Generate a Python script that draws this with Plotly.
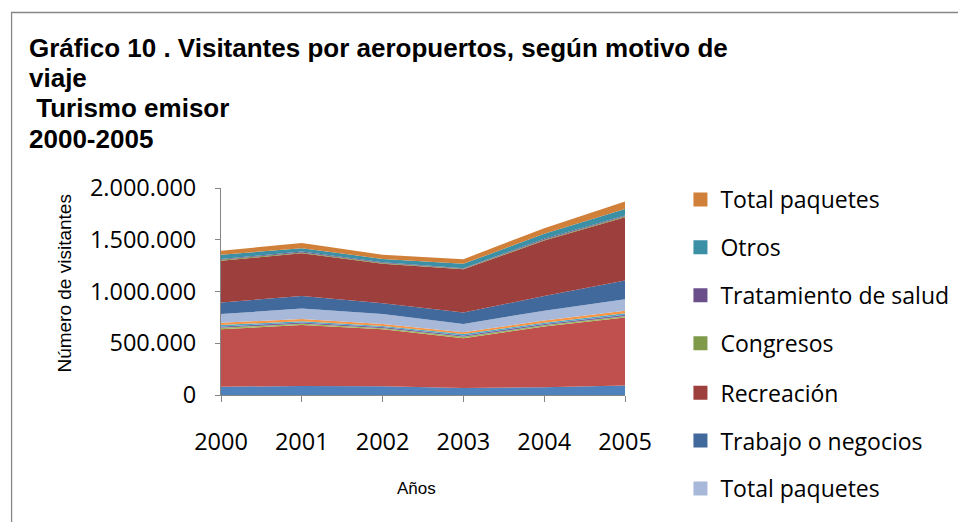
import plotly.graph_objects as go

years = [2000, 2001, 2002, 2003, 2004, 2005]

# lower group (stack bottom -> top)
trabajo_a = [80000, 88000, 85000, 68000, 74000, 92000]
recreacion_a = [555000, 589000, 550000, 480000, 587000, 656000]
congresos_a = [14000, 12000, 11000, 14000, 13000, 14000]
salud_a = [14000, 12000, 11000, 14000, 12000, 14000]
otros_a = [14000, 12000, 10000, 14000, 13000, 14000]
paquetes_a = [22000, 22000, 20000, 16000, 20000, 25000]
# upper group
paquetes_b = [84000, 100000, 96000, 81000, 96000, 110000]
trabajo_b = [110000, 122000, 104000, 109000, 142000, 181000]
recreacion_b = [403000, 413000, 380000, 419000, 535000, 612000]
congresos_b = [10000, 8000, 8000, 5000, 9000, 8000]
salud_b = [9000, 8000, 8000, 5000, 8000, 8000]
otros_b = [39000, 33000, 32000, 42000, 48000, 62000]
paquetes_c = [39000, 50000, 39000, 45000, 55000, 74000]

y_tickvals = [0, 500000, 1000000, 1500000, 2000000]
y_ticktext = ["0", "500.000", "1.000.000", "1.500.000", "2.000.000"]

title_lines = ["Gráfico 10 . Visitantes por aeropuertos, según motivo de",
               "viaje", " Turismo emisor", "2000-2005"]
y_title = "Número de visitantes"
x_title = "Años"

series = [
    ("Trabajo o negocios", trabajo_a, "#4F81BD"),
    ("Recreación", recreacion_a, "#C0504D"),
    ("Congresos", congresos_a, "#9BBB59"),
    ("Tratamiento de salud", salud_a, "#8064A2"),
    ("Otros", otros_a, "#4BACC6"),
    ("Total paquetes", paquetes_a, "#F79646"),
    ("Total paquetes", paquetes_b, "#A8B8D9"),
    ("Trabajo o negocios", trabajo_b, "#41699C"),
    ("Recreación", recreacion_b, "#9C3F3D"),
    ("Congresos", congresos_b, "#7F9A48"),
    ("Tratamiento de salud", salud_b, "#6A4F8B"),
    ("Otros", otros_b, "#3B90A6"),
    ("Total paquetes", paquetes_c, "#D1803A"),
]

fig = go.Figure()
for name, vals, col in series:
    fig.add_trace(go.Scatter(
        x=years, y=vals, name=name, stackgroup="one", mode="lines",
        line=dict(width=0, color=col), fillcolor=col, showlegend=False,
        hoverinfo="x+y+name"))

# legend entries (top seven series, reversed order as in the original)
legend_items = list(reversed(series[6:]))
for i, (name, vals, col) in enumerate(legend_items):
    fig.add_trace(go.Scatter(
        x=[None], y=[None], name=name, mode="markers",
        marker=dict(symbol="square", size=14, color=col),
        legendgroup="g%d" % i, showlegend=True,
        legend="legend" if i < 4 else "legend2"))

OFF = 8  # page body margin
W, H = 966 - OFF, 522 - OFF
# plot area in page pixels
PL, PR, PT, PB = 221, 629, 188, 395
L, R, T, B = PL - OFF, PR - OFF, PT - OFF, PB - OFF
pw, ph = R - L, B - T


def px(x):
    return (x - OFF - L) / pw


def py(y):
    return (B - (y - OFF)) / ph


LEG_FONT = dict(family="Open Sans", size=23, color="#000000")
TICK_FONT = dict(family="Open Sans", size=23.5, color="#000000")
STEP = 48.3

title_annots = []
baselines = [56.5, 87, 117.3, 147.7]
for line, bl in zip(title_lines, baselines):
    title_annots.append(dict(
        text=line, xref="paper", yref="paper", x=px(25), y=py(bl - 9),
        xanchor="left", yanchor="middle", align="left", showarrow=False,
        font=dict(family="Liberation Sans", size=26, color="#000000", weight="bold")))

fig.update_layout(
    width=W, height=H,
    margin=dict(l=L, r=W - R, t=T, b=H - B, pad=0),
    paper_bgcolor="white", plot_bgcolor="white",
    showlegend=True,
    legend=dict(x=px(685), y=py(178), xanchor="left", yanchor="top",
                traceorder="grouped", tracegroupgap=15, font=LEG_FONT,
                bgcolor="rgba(0,0,0,0)", itemwidth=30),
    legend2=dict(x=px(685), y=py(178 + 4 * STEP), xanchor="left", yanchor="top",
                 traceorder="grouped", tracegroupgap=15, font=LEG_FONT,
                 bgcolor="rgba(0,0,0,0)", itemwidth=30),
    xaxis=dict(range=[2000, 2005], tickvals=years, ticktext=[str(y) for y in years],
               showgrid=False, zeroline=False, showline=True, linecolor="#868686",
               linewidth=1, ticks="outside", ticklen=6, tickcolor="#868686",
               ticklabelstandoff=20, tickfont=TICK_FONT),
    yaxis=dict(range=[0, 2000000], tickvals=y_tickvals, ticktext=y_ticktext,
               showgrid=False, zeroline=False, showline=True, linecolor="#868686",
               linewidth=1, ticks="outside", ticklen=5, tickcolor="#868686",
               ticklabelstandoff=14, tickfont=TICK_FONT),
    shapes=[dict(type="rect", xref="paper", yref="paper",
                 x0=px(9.5), x1=px(1000), y0=py(600), y1=py(12.5),
                 line=dict(color="#878787", width=1.3), fillcolor="rgba(0,0,0,0)",
                 layer="below")],
    annotations=title_annots + [
        dict(text=y_title, xref="paper", yref="paper", x=px(62), y=py(284),
             textangle=-90, showarrow=False, xanchor="center", yanchor="middle",
             font=dict(family="Liberation Sans", size=19, color="#000000")),
        dict(text=x_title, xref="paper", yref="paper", x=px(418), y=py(488),
             showarrow=False, xanchor="center", yanchor="middle",
             font=dict(family="Liberation Sans", size=17, color="#000000")),
    ],
)

fig.write_html("out.html")
